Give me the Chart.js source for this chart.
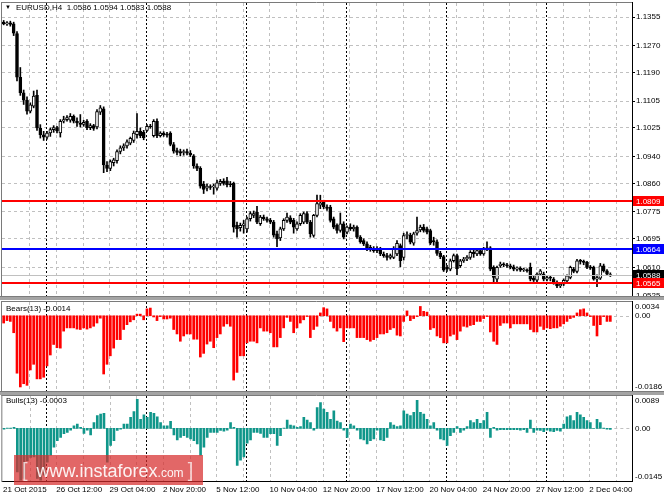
<!DOCTYPE html>
<html>
<head>
<meta charset="utf-8">
<script src="https://cdn.jsdelivr.net/npm/chart.js@4.4.0/dist/chart.umd.min.js"></script>
<style>
  html, body { margin: 0; padding: 0; background: #fff; }
  #wrap { position: relative; width: 664px; height: 498px; overflow: hidden; background: #fff;
          font-family: "Liberation Sans", Arial, sans-serif; }
  canvas { position: absolute; left: 0; }
  .sep { position: absolute; left: 0; width: 664px; height: 3px; background: #a4a4a4; border-top: 1px solid #7c7c7c; }
  .lbl { position: absolute; font-size: 8px; line-height: 10px; color: #000; white-space: nowrap; }
  .tri { font-size: 6px; margin-right: 5px; position: relative; top: -1px; }
  #wm { position: absolute; left: 14px; top: 455px; width: 189px; height: 30px; background: rgba(215, 45, 45, 0.72);
        color: rgba(255, 255, 255, 0.92); line-height: 30px; white-space: nowrap; }
  #wm span { vertical-align: baseline; }
</style>
</head>
<body>
<div id="wrap">
  <canvas id="cMain" width="664" height="297" style="top:0px"></canvas>
  <div class="sep" style="top:296px"></div>
  <canvas id="cBears" width="664" height="92" style="top:300px"></canvas>
  <div class="sep" style="top:391px"></div>
  <canvas id="cBulls" width="664" height="102" style="top:395px"></canvas>
  <div id="title" class="lbl" style="left:5px; top:3px;"></div>
  <div id="bearsLbl" class="lbl" style="left:6px; top:304px;"></div>
  <div id="bullsLbl" class="lbl" style="left:6px; top:396px;"></div>
  <div id="wm"><span style="font-size:20px; margin-left:8px; opacity:0.8;">[</span><span style="font-size:18px; margin-left:9px;">www.instaforex</span><span style="font-size:12px;">.com</span><span style="font-size:20px; margin-left:4px; opacity:0.8;">]</span></div>
</div>
<script>
// EURUSD H4 candles, 21 Oct 2015 20:00 .. 3 Dec 2015
const opens = [
  1.1340, 1.1335, 1.1338, 1.1335, 1.1306, 1.1176, 1.1130, 1.1108, 1.1075, 1.1090,
  1.1122, 1.1025, 1.1005, 1.0998, 1.1010, 1.1020, 1.1026, 1.1010, 1.1045, 1.1050,
  1.1048, 1.1060, 1.1045, 1.1040, 1.1036, 1.1045, 1.1026, 1.1032, 1.1028, 1.1072,
  1.1082, 1.0915, 1.0905, 1.0922, 1.0928, 1.0955, 1.0966, 1.0972, 1.0980, 1.0988,
  1.1005, 1.1015, 1.1012, 1.1018, 1.1030, 1.1002, 1.1045, 1.1002, 1.1010, 1.1005,
  1.1010, 1.0976, 1.0958, 1.0955, 1.0952, 1.0955, 1.0950, 1.0942, 1.0912, 1.0905,
  1.0858, 1.0846, 1.0850, 1.0850, 1.0846, 1.0860, 1.0866, 1.0868, 1.0858, 1.0860,
  1.0735, 1.0728, 1.0735, 1.0725, 1.0755, 1.0765, 1.0775, 1.0740, 1.0760, 1.0755,
  1.0750, 1.0745, 1.0710, 1.0698, 1.0725, 1.0750, 1.0758, 1.0750, 1.0725, 1.0740,
  1.0745, 1.0770, 1.0745, 1.0705, 1.0765, 1.0795, 1.0805, 1.0790, 1.0790, 1.0755,
  1.0735, 1.0720, 1.0740, 1.0715, 1.0730, 1.0725, 1.0730, 1.0700, 1.0690, 1.0680,
  1.0670, 1.0665, 1.0660, 1.0666, 1.0650, 1.0645, 1.0640, 1.0640, 1.0650, 1.0675,
  1.0640, 1.0705, 1.0706, 1.0682, 1.0712, 1.0722, 1.0730, 1.0725, 1.0720, 1.0690,
  1.0686, 1.0652, 1.0642, 1.0610, 1.0605, 1.0630, 1.0645, 1.0615, 1.0630, 1.0635,
  1.0640, 1.0655, 1.0650, 1.0660, 1.0650, 1.0665, 1.0668, 1.0610, 1.0575, 1.0615,
  1.0620, 1.0618, 1.0615, 1.0612, 1.0605, 1.0608, 1.0603, 1.0602, 1.0610, 1.0578,
  1.0572, 1.0590, 1.0590, 1.0575, 1.0580, 1.0575, 1.0565, 1.0555, 1.0560, 1.0570,
  1.0580, 1.0605, 1.0598, 1.0630, 1.0628, 1.0625, 1.0612, 1.0610, 1.0575, 1.0578,
  1.0615, 1.0600, 1.0586
];
const highs = [
  1.1345, 1.1342, 1.1343, 1.1340, 1.1312, 1.1205, 1.1138, 1.1118, 1.1100, 1.1135,
  1.1138, 1.1035, 1.1015, 1.1015, 1.1025, 1.1032, 1.1030, 1.1050, 1.1060, 1.1062,
  1.1068, 1.1064, 1.1055, 1.1065, 1.1048, 1.1050, 1.1038, 1.1036, 1.1080, 1.1092,
  1.1088, 1.0925, 1.0930, 1.0935, 1.0960, 1.0972, 1.0978, 1.0990, 1.0998, 1.1016,
  1.1068, 1.1025, 1.1018, 1.1035, 1.1036, 1.1050, 1.1052, 1.1014, 1.1014, 1.1012,
  1.1014, 1.0982, 1.0965, 1.0962, 1.0960, 1.0962, 1.0958, 1.0946, 1.0918, 1.0910,
  1.0866, 1.0858, 1.0856, 1.0858, 1.0870, 1.0872, 1.0874, 1.0878, 1.0866, 1.0864,
  1.0745, 1.0742, 1.0750, 1.0760, 1.0776, 1.0778, 1.0792, 1.0765, 1.0766, 1.0760,
  1.0756, 1.0750, 1.0718, 1.0730, 1.0755, 1.0772, 1.0764, 1.0756, 1.0746, 1.0770,
  1.0775, 1.0776, 1.0750, 1.0768, 1.0825, 1.0825, 1.0810, 1.0796, 1.0795, 1.0760,
  1.0740, 1.0772, 1.0746, 1.0734, 1.0740, 1.0736, 1.0734, 1.0705, 1.0695, 1.0686,
  1.0676, 1.0672, 1.0672, 1.0670, 1.0656, 1.0652, 1.0650, 1.0672, 1.0690, 1.0680,
  1.0712, 1.0716, 1.0712, 1.0715, 1.0760, 1.0736, 1.0738, 1.0730, 1.0724, 1.0700,
  1.0692, 1.0658, 1.0646, 1.0616, 1.0635, 1.0650, 1.0650, 1.0634, 1.0640, 1.0645,
  1.0660, 1.0665, 1.0664, 1.0665, 1.0670, 1.0686, 1.0672, 1.0615, 1.0614, 1.0626,
  1.0624, 1.0622, 1.0620, 1.0617, 1.0612, 1.0612, 1.0608, 1.0606, 1.0623, 1.0584,
  1.0594, 1.0604, 1.0596, 1.0585, 1.0586, 1.0580, 1.0570, 1.0564, 1.0576, 1.0588,
  1.0614, 1.0610, 1.0634, 1.0634, 1.0632, 1.0628, 1.0616, 1.0614, 1.0588, 1.0622,
  1.0620, 1.0604, 1.0594
];
const lows = [
  1.1332, 1.1330, 1.1328, 1.1300, 1.1165, 1.1122, 1.1095, 1.1066, 1.1070, 1.1085,
  1.1018, 1.0995, 1.0988, 1.0992, 1.1000, 1.1012, 1.1010, 1.0998, 1.1040, 1.1045,
  1.1042, 1.1040, 1.1030, 1.1028, 1.1030, 1.1020, 1.1020, 1.1018, 1.1022, 1.1065,
  1.0892, 1.0895, 1.0898, 1.0912, 1.0920, 1.0948, 1.0958, 1.0965, 1.0975, 1.0982,
  1.0995, 1.0996, 1.0990, 1.1015, 1.1024, 1.0998, 1.0996, 1.0998, 1.1000, 1.0998,
  1.0972, 1.0950, 1.0945, 1.0942, 1.0944, 1.0945, 1.0940, 1.0905, 1.0898, 1.0846,
  1.0830, 1.0838, 1.0842, 1.0828, 1.0840, 1.0854, 1.0855, 1.0850, 1.0850, 1.0715,
  1.0700, 1.0718, 1.0712, 1.0715, 1.0748, 1.0758, 1.0740, 1.0735, 1.0750, 1.0745,
  1.0740, 1.0700, 1.0672, 1.0690, 1.0720, 1.0744, 1.0740, 1.0712, 1.0720, 1.0735,
  1.0740, 1.0740, 1.0700, 1.0700, 1.0760, 1.0785, 1.0785, 1.0780, 1.0745, 1.0725,
  1.0712, 1.0715, 1.0695, 1.0710, 1.0720, 1.0718, 1.0696, 1.0682, 1.0675, 1.0660,
  1.0658, 1.0655, 1.0654, 1.0645, 1.0640, 1.0632, 1.0635, 1.0636, 1.0645, 1.0612,
  1.0632, 1.0695, 1.0680, 1.0676, 1.0706, 1.0716, 1.0715, 1.0710, 1.0678, 1.0676,
  1.0646, 1.0636, 1.0598, 1.0598, 1.0600, 1.0626, 1.0588, 1.0610, 1.0625, 1.0630,
  1.0634, 1.0640, 1.0645, 1.0646, 1.0646, 1.0660, 1.0600, 1.0567, 1.0568, 1.0610,
  1.0612, 1.0610, 1.0606, 1.0600, 1.0600, 1.0598, 1.0598, 1.0596, 1.0570, 1.0568,
  1.0568, 1.0586, 1.0570, 1.0570, 1.0570, 1.0560, 1.0550, 1.0550, 1.0556, 1.0566,
  1.0576, 1.0594, 1.0594, 1.0620, 1.0618, 1.0606, 1.0604, 1.0572, 1.0553, 1.0574,
  1.0596, 1.0586, 1.0583
];
const closes = [
  1.1335, 1.1338, 1.1333, 1.1307, 1.1176, 1.1130, 1.1108, 1.1075, 1.1094, 1.1120,
  1.1025, 1.1005, 1.0998, 1.1010, 1.1020, 1.1026, 1.1016, 1.1045, 1.1050, 1.1056,
  1.1060, 1.1045, 1.1040, 1.1036, 1.1042, 1.1026, 1.1032, 1.1024, 1.1074, 1.1085,
  1.0915, 1.0905, 1.0925, 1.0930, 1.0955, 1.0966, 1.0972, 1.0984, 1.0994, 1.1010,
  1.1015, 1.1002, 1.0996, 1.1030, 1.1028, 1.1045, 1.1002, 1.1010, 1.1005, 1.1004,
  1.0976, 1.0956, 1.0952, 1.0950, 1.0955, 1.0950, 1.0945, 1.0912, 1.0905, 1.0852,
  1.0842, 1.0852, 1.0848, 1.0852, 1.0862, 1.0866, 1.0860, 1.0856, 1.0856, 1.0730,
  1.0725, 1.0735, 1.0740, 1.0755, 1.0770, 1.0770, 1.0745, 1.0760, 1.0755, 1.0750,
  1.0745, 1.0706, 1.0695, 1.0725, 1.0750, 1.0760, 1.0745, 1.0730, 1.0740, 1.0765,
  1.0770, 1.0745, 1.0710, 1.0765, 1.0800, 1.0802, 1.0790, 1.0786, 1.0750, 1.0730,
  1.0720, 1.0740, 1.0700, 1.0730, 1.0725, 1.0730, 1.0700, 1.0686, 1.0680, 1.0666,
  1.0665, 1.0660, 1.0666, 1.0650, 1.0645, 1.0640, 1.0645, 1.0665, 1.0682, 1.0630,
  1.0705, 1.0708, 1.0685, 1.0710, 1.0720, 1.0730, 1.0720, 1.0715, 1.0682, 1.0686,
  1.0652, 1.0642, 1.0602, 1.0605, 1.0630, 1.0645, 1.0606, 1.0630, 1.0635, 1.0640,
  1.0655, 1.0650, 1.0660, 1.0650, 1.0665, 1.0668, 1.0605, 1.0580, 1.0610, 1.0620,
  1.0618, 1.0615, 1.0610, 1.0605, 1.0608, 1.0602, 1.0603, 1.0600, 1.0575, 1.0572,
  1.0590, 1.0600, 1.0575, 1.0580, 1.0578, 1.0565, 1.0555, 1.0560, 1.0572, 1.0585,
  1.0610, 1.0598, 1.0630, 1.0628, 1.0625, 1.0610, 1.0608, 1.0575, 1.0580, 1.0615,
  1.0600, 1.0590, 1.0588
];
// Bears Power (13)
const bears = [
  -0.0018, -0.0012, -0.0014, -0.0042, -0.0142, -0.0176, -0.0168, -0.0172, -0.0134, -0.0120,
  -0.0156, -0.0156, -0.0152, -0.0124, -0.0097, -0.0071, -0.0079, -0.0080, -0.0038, -0.0030,
  -0.0030, -0.0030, -0.0033, -0.0034, -0.0030, -0.0033, -0.0030, -0.0026, -0.0018, -0.0006,
  -0.0144, -0.0120, -0.0099, -0.0080, -0.0059, -0.0059, -0.0034, -0.0022, -0.0015, -0.0010,
  0.0004, 0.0004, -0.0010, 0.0017, 0.0019, -0.0003, -0.0012, -0.0002, -0.0008, -0.0008,
  -0.0006, -0.0034, -0.0045, -0.0063, -0.0050, -0.0045, -0.0045, -0.0058, -0.0058, -0.0102,
  -0.0093, -0.0070, -0.0063, -0.0079, -0.0054, -0.0045, -0.0026, -0.0020, -0.0026, -0.0159,
  -0.0140, -0.0099, -0.0099, -0.0067, -0.0063, -0.0063, -0.0067, -0.0030, -0.0038, -0.0038,
  -0.0042, -0.0077, -0.0077, -0.0054, -0.0030, -0.0004, -0.0014, -0.0042, -0.0030, -0.0018,
  -0.0010, -0.0002, -0.0054, -0.0034, -0.0026, 0.0007, 0.0020, 0.0017, -0.0014, -0.0030,
  -0.0038, -0.0030, -0.0064, -0.0030, -0.0030, -0.0030, -0.0054, -0.0054, -0.0054, -0.0059,
  -0.0063, -0.0059, -0.0054, -0.0045, -0.0045, -0.0042, -0.0034, -0.0030, -0.0048, -0.0050,
  -0.0014, 0.0012, -0.0012, -0.0007, -0.0002, 0.0023, 0.0011, 0.0009, -0.0034, -0.0030,
  -0.0050, -0.0054, -0.0067, -0.0067, -0.0050, -0.0046, -0.0059, -0.0038, -0.0026, -0.0028,
  -0.0024, -0.0022, -0.0014, -0.0014, -0.0007, -0.0002, -0.0040, -0.0063, -0.0071, -0.0024,
  -0.0018, -0.0018, -0.0030, -0.0020, -0.0020, -0.0020, -0.0020, -0.0020, -0.0034, -0.0040,
  -0.0040, -0.0026, -0.0034, -0.0030, -0.0032, -0.0030, -0.0030, -0.0026, -0.0020, -0.0014,
  -0.0007, -0.0004, 0.0007, 0.0015, 0.0017, 0.0007, -0.0002, -0.0024, -0.0050, -0.0022,
  -0.0002, -0.0014, -0.0014
];
// Bulls Power (13)
const bulls = [
  -0.0002, 0.0001, 0.0001, 0.0003, -0.0120, -0.0143, -0.0138, -0.0090, -0.0080, -0.0079,
  -0.0138, -0.0143, -0.0129, -0.0093, -0.0074, -0.0052, -0.0034, -0.0025, -0.0015, -0.0011,
  -0.0005, 0.0007, 0.0012, 0.0003, -0.0014, -0.0005, -0.0018, 0.0016, 0.0035, 0.0039,
  0.0041, -0.0093, -0.0047, -0.0034, -0.0006, -0.0002, 0.0012, 0.0012, 0.0030, 0.0046,
  0.0080, 0.0025, 0.0037, 0.0030, 0.0044, 0.0041, 0.0032, 0.0016, 0.0007, 0.0007,
  0.0019, -0.0018, -0.0032, -0.0025, -0.0020, -0.0025, -0.0029, -0.0034, -0.0043, -0.0074,
  -0.0052, -0.0025, -0.0011, -0.0011, -0.0011, -0.0006, -0.0008, -0.0005, 0.0016, 0.0003,
  -0.0102, -0.0088, -0.0079, -0.0041, -0.0032, -0.0011, -0.0011, -0.0014, -0.0025, -0.0025,
  -0.0015, -0.0015, -0.0047, -0.0020, 0.0001, 0.0023, 0.0009, 0.0007, 0.0003, 0.0005,
  0.0030, 0.0023, 0.0016, -0.0005, 0.0057, 0.0071, 0.0053, 0.0044, 0.0025, 0.0048,
  0.0020, 0.0016, -0.0005, -0.0025, 0.0012, 0.0007, -0.0005, -0.0029, -0.0032, -0.0043,
  -0.0034, -0.0029, -0.0005, -0.0032, -0.0034, -0.0025, 0.0016, 0.0009, 0.0005, 0.0007,
  0.0048, 0.0039, 0.0035, 0.0044, 0.0077, 0.0044, 0.0039, 0.0025, 0.0007, 0.0016,
  -0.0005, -0.0029, -0.0032, -0.0047, -0.0020, -0.0011, 0.0005, -0.0011, -0.0005, 0.0005,
  0.0021, 0.0016, 0.0025, 0.0014, 0.0021, 0.0044, -0.0025, 0.0003, -0.0005, -0.0004,
  -0.0004, -0.0004, -0.0004, -0.0004, -0.0004, -0.0005, -0.0004, -0.0011, 0.0023, -0.0011,
  -0.0005, -0.0006, -0.0009, -0.0005, -0.0008, -0.0009, -0.0006, -0.0008, 0.0012, 0.0032,
  0.0035, 0.0021, 0.0044, 0.0037, 0.0030, 0.0021, 0.0016, 0.0000, 0.0025, 0.0016,
  0.0001, -0.0002, -0.0003
];

const slotCount = 189;           // bar slots across the window (incl. right shift)
const priceTicks = [1.1355, 1.1270, 1.1190, 1.1105, 1.1025, 1.0940, 1.0860, 1.0775, 1.0695, 1.0610, 1.0525];
const priceMin = 1.0525, priceMax = 1.1397;
const bearsTicks = [0.0034, 0, -0.0186];
const bullsTicks = [0.0089, 0, -0.0145];
const timeTicks = ['21 Oct 2015', '26 Oct 12:00', '29 Oct 04:00', '2 Nov 20:00', '5 Nov 12:00', '10 Nov 04:00',
                   '12 Nov 20:00', '17 Nov 12:00', '20 Nov 04:00', '24 Nov 20:00', '27 Nov 12:00', '2 Dec 04:00'];
const timeTickStep = 16;
const gridStep = 8;
const weekStarts = [13, 43, 73, 103, 133, 163];
const levels = [1.0809, 1.0664, 1.0565];
const levelColors = ['#ff0000', '#0000ff', '#ff0000'];

const FONT = '"Liberation Sans", Arial, sans-serif';
const slots = Array.from({ length: slotCount }, (_, i) => i);
const last = closes.length - 1;

document.getElementById('title').innerHTML = '<span class="tri">&#9660;</span>EURUSD,H4&nbsp; ' +
  [opens[last], highs[last], lows[last], closes[last]].map(v => v.toFixed(4)).join(' ');
document.getElementById('bearsLbl').textContent = 'Bears(13) ' + bears[last].toFixed(4);
document.getElementById('bullsLbl').textContent = 'Bulls(13) ' + bulls[last].toFixed(4);

function hline(ctx, x1, x2, y) { ctx.beginPath(); ctx.moveTo(x1, y); ctx.lineTo(x2, y); ctx.stroke(); }
function vline(ctx, x, y1, y2) { ctx.beginPath(); ctx.moveTo(x, y1); ctx.lineTo(x, y2); ctx.stroke(); }

// vertical grid, week separators and pane frame, shared by the three panes
const paneGrid = {
  id: 'paneGrid',
  beforeDatasetsDraw(chart) {
    const { ctx, chartArea: a, scales: { x } } = chart;
    ctx.save();
    ctx.lineWidth = 1;
    ctx.strokeStyle = '#c0c0c0';
    ctx.setLineDash([3, 3]);
    for (let i = gridStep; i < slotCount; i += gridStep) {
      vline(ctx, Math.round(x.getPixelForValue(i) - 1) + 0.5, a.top, a.bottom);
    }
    ctx.strokeStyle = '#000';
    ctx.setLineDash([2, 2]);
    weekStarts.forEach(i => vline(ctx, Math.round(x.getPixelForValue(i) - 1) + 0.5, a.top, a.bottom));
    ctx.restore();
  },
  afterDraw(chart) {
    const { ctx, chartArea: a } = chart;
    ctx.save();
    ctx.lineWidth = 1;
    ctx.strokeStyle = '#7a7a7a';
    vline(ctx, a.left - 0.5, a.top - 1, a.bottom + 1);
    hline(ctx, a.left - 1, a.right, a.top - 0.5);
    ctx.strokeStyle = '#000';
    vline(ctx, a.right + 0.5, a.top - 1, a.bottom + 1);
    ctx.restore();
  }
};

// level lines and right-hand price tags on the main pane
const priceLevels = {
  id: 'priceLevels',
  afterDatasetsDraw(chart) {
    const { ctx, chartArea: a, scales: { y } } = chart;
    ctx.save();
    ctx.lineWidth = 1;
    ctx.strokeStyle = '#c0c0c0';
    hline(ctx, a.left, a.right, Math.round(y.getPixelForValue(closes[last])) + 0.5);
    ctx.lineWidth = 2;
    levels.forEach((v, k) => {
      ctx.strokeStyle = levelColors[k];
      hline(ctx, a.left, a.right, Math.round(y.getPixelForValue(v)));
    });
    ctx.restore();
  },
  afterDraw(chart) {
    const { ctx, chartArea: a, scales: { y } } = chart;
    const tags = [
      { v: levels[0], c: levelColors[0] },
      { v: levels[1], c: levelColors[1] },
      { v: closes[last], c: '#000' },
      { v: levels[2], c: levelColors[2] }
    ];
    ctx.save();
    ctx.font = '8px ' + FONT;
    ctx.textBaseline = 'middle';
    tags.forEach(t => {
      const py = Math.round(y.getPixelForValue(t.v));
      ctx.fillStyle = t.c;
      ctx.fillRect(a.right + 1, py - 5, 664 - a.right, 10);
      ctx.fillStyle = '#fff';
      ctx.fillText(t.v.toFixed(4), a.right + 4, py + 0.5);
    });
    ctx.restore();
  }
};

// zero line and right scale labels of the indicator panes
const indicatorAxis = {
  id: 'indicatorAxis',
  beforeDatasetsDraw(chart, args, opts) {
    const { ctx, chartArea: a, scales: { y } } = chart;
    ctx.save();
    ctx.lineWidth = 1;
    ctx.strokeStyle = '#c0c0c0';
    ctx.setLineDash([3, 3]);
    hline(ctx, a.left, a.right, Math.round(y.getPixelForValue(0)) + 0.5);
    ctx.restore();
  },
  afterDraw(chart, args, opts) {
    const { ctx, chartArea: a, scales: { y } } = chart;
    ctx.save();
    ctx.font = '8px ' + FONT;
    ctx.fillStyle = '#000';
    ctx.textBaseline = 'middle';
    opts.ticks.forEach(v => {
      const py = Math.min(Math.max(y.getPixelForValue(v), a.top + 5), a.bottom - 4);
      ctx.fillText(v === 0 ? '0.00' : v.toFixed(4), a.right + 3, py);
    });
    ctx.restore();
  }
};

const base = {
  responsive: false,
  animation: false,
  events: [],
  plugins: { legend: { display: false }, tooltip: { enabled: false } }
};

new Chart(document.getElementById('cMain'), {
  type: 'bar',
  data: {
    labels: slots,
    datasets: [
      {
        data: opens.map((o, i) => [o, closes[i]]),
        backgroundColor: opens.map((o, i) => closes[i] >= o ? '#fff' : '#000'),
        borderColor: '#000',
        borderWidth: 1,
        borderSkipped: false,
        barThickness: 3,
        minBarLength: 1,
        grouped: false,
        order: 0
      },
      {
        data: lows.map((l, i) => [l, highs[i]]),
        backgroundColor: '#000',
        barThickness: 1,
        grouped: false,
        order: 1
      }
    ]
  },
  options: {
    ...base,
    layout: { padding: { left: 2, top: 3, right: 0, bottom: 1 } },
    scales: {
      x: { display: false },
      y: {
        position: 'right',
        min: priceMin,
        max: priceMax,
        afterFit: s => { s.width = 32; s.paddingTop = 0; s.paddingBottom = 0; },
        afterBuildTicks: s => { s.ticks = priceTicks.map(value => ({ value })); },
        ticks: { callback: v => v.toFixed(4), font: { family: FONT, size: 8 }, color: '#000', padding: 1 },
        grid: { color: '#c0c0c0', tickColor: '#000', tickLength: 3 },
        border: { display: true, color: '#000', dash: [3, 3] }
      }
    }
  },
  plugins: [paneGrid, priceLevels]
});

new Chart(document.getElementById('cBears'), {
  type: 'bar',
  data: { labels: slots, datasets: [{ data: bears, backgroundColor: '#ff0000', barThickness: 2 }] },
  options: {
    ...base,
    plugins: { ...base.plugins, indicatorAxis: { ticks: bearsTicks } },
    layout: { padding: { left: 2, top: 2, right: 32, bottom: 1 } },
    scales: {
      x: { display: false },
      y: { display: false, min: bearsTicks[2], max: bearsTicks[0] }
    }
  },
  plugins: [paneGrid, indicatorAxis]
});

new Chart(document.getElementById('cBulls'), {
  type: 'bar',
  data: { labels: slots, datasets: [{ data: bulls, backgroundColor: '#0f968a', barThickness: 2 }] },
  options: {
    ...base,
    plugins: { ...base.plugins, indicatorAxis: { ticks: bullsTicks } },
    layout: { padding: { left: 2, top: 1, right: 32, bottom: 0 } },
    scales: {
      x: {
        afterFit: s => { s.height = 16; },
        grid: { display: false, drawTicks: false },
        border: { display: true, color: '#000' },
        ticks: {
          autoSkip: false,
          maxRotation: 0,
          align: 'start',
          labelOffset: -1,
          padding: 4,
          color: '#000',
          font: { family: FONT, size: 8 },
          callback: (v, i) => i % timeTickStep === 0 ? (timeTicks[i / timeTickStep] || '') : ''
        }
      },
      y: { display: false, min: bullsTicks[2], max: bullsTicks[0] }
    }
  },
  plugins: [paneGrid, indicatorAxis]
});
</script>
</body>
</html>
